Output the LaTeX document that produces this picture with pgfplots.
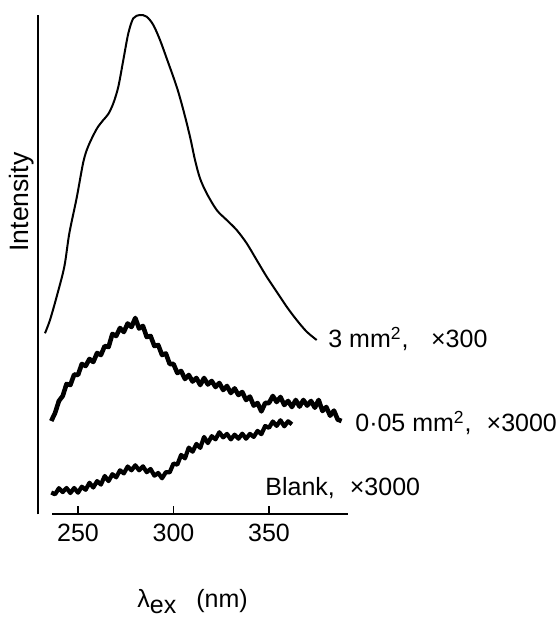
\documentclass[border=0pt]{standalone}
\usepackage{fontspec}
\setmainfont{Liberation Sans}
\usepackage{pgfplots}
\pgfplotsset{compat=1.18}
\begin{document}
\begin{tikzpicture}[font=\fontsize{12.5}{15}\selectfont]
\useasboundingbox (0,0) rectangle (279pt,309.5pt);
\begin{axis}[
  at={(19pt,52.5pt)}, anchor=south west,
  x=0.955pt, y=0.5pt,
  xmin=229.06, xmax=391.4, ymin=0, ymax=499,
  enlargelimits=false,
  axis line style={draw=none},
  xtick={250,300,350}, ytick=\empty,
  xtick pos=left,
  tick align=inside,
  major tick length=4pt,
  every tick/.style={black, line width=0.9pt},
  xticklabel style={yshift=-1.5pt},
  /pgf/number format/assume math mode=true,
  /pgf/number format/1000 sep={},
  clip=false,
]
% axis lines
\addplot[black, line width=0.9pt] coordinates {(236.4,0) (391.4,0)};
\addplot[black, line width=0.9pt] coordinates {(229.06,-0.5) (229.06,499)};

% 3 mm^2, x300
\addplot[black, line width=1pt, smooth] coordinates {
(232.72,180.7) (235.34,194) (238.83,217.3) (242.84,247.3) (245.46,280.7)
(249.30,316) (252.79,352) (255.41,368) (259.77,385) (263.26,394)
(265.88,400) (268.50,410.7) (271.12,427.3) (273.73,454) (276.35,480.7)
(278.97,495.7) (282.46,499) (285.95,497.3) (289.44,489) (292.93,474)
(296.42,455.7) (301.66,427.3) (305.15,404) (308.64,377.3) (311.26,354)
(313.87,335.7) (317.37,320.7) (322.60,304) (327.84,294) (333.07,284)
(338.31,270.7) (343.54,254) (348.78,237.3) (354.01,222.3) (359.25,207.3)
(364.48,194) (369.72,182.3) (374.96,174)
};

% 0.05 mm^2, x3000
\addplot[black, line width=2.3pt, line join=round] coordinates {
(236,93) (238,101) (240,113) (242,118) (244,130) (246,129) (248,139.5)
(250,139) (252,150) (254,148) (256,155) (258,152) (260,161) (262,159)
(264,168) (266,167) (268,180) (270,178) (272,186) (274,182) (276,190.5)
(278,187) (280,196) (282,185.5) (284,188) (286,177) (288,178) (290,168)
(292,169) (294,159) (296,160.5) (298,150) (300,150) (302,141) (304,143)
(306,135) (308,139) (310,132.5) (312,136) (314,129) (316,136) (318,129.5)
(320,133) (322,127) (324,131) (326,124) (328,128) (330,121) (332,125.6)
(334,119) (336,122) (338,114) (340,117.4) (342,108.4) (344,111) (346,102.6)
(348,111) (350,111) (352,118) (354,112) (356,117) (358,109) (360,113)
(362,107) (364,114) (366,107.4) (368,114) (370,108.4) (372,113) (374,106.3)
(376,114) (378,103) (380,107) (382,98.3) (384,103.4) (386,94.4) (388,93)
};

% Blank, x3000
\addplot[black, line width=2.1pt, line join=round] coordinates {
(236,21.5) (238,19.7) (240,25.8) (242,21.9) (244,26) (246,21) (248,26)
(250,21.3) (252,27.3) (254,24.2) (256,31.2) (258,26.5) (260,32.9) (262,29.4)
(264,38) (266,32.9) (268,39.8) (270,36.7) (272,43.7) (274,40.6) (276,47.5)
(278,43.7) (280,48.7) (282,43.7) (284,47.7) (286,41.8) (288,45) (290,38.3)
(292,41) (294,35.7) (296,41.8) (298,41.6) (300,50.5) (302,49.3) (304,59.1)
(306,55.6) (308,66.4) (310,62.3) (312,70.1) (314,66.1) (316,77) (318,70.9)
(320,77.8) (322,74.7) (324,81.7) (326,76.6) (328,80.1) (330,74.6) (332,79.3)
(334,75.3) (336,80.3) (338,75.3) (340,80.1) (342,77.1) (344,83.1) (346,79.8)
(348,88) (350,86.2) (352,92.5) (354,88.1) (356,93.7) (358,87.7) (360,92.7)
(362,89.7)
};

\node[rotate=90, font=\fontsize{13.3}{16}\selectfont] at (axis cs:220.7,312) {Intensity};
\node[anchor=base west, inner sep=0pt] at (axis cs:280.9,-93) {λ\raisebox{-3pt}{ex}\hspace{0.8em}(nm)};
\node[anchor=base west, inner sep=0pt] at (axis cs:380.9,166) {3 mm\textsuperscript{2},\hspace{0.9em}×300};
\node[anchor=base west, inner sep=0pt] at (axis cs:395.0,82) {0·05 mm\textsuperscript{2},\hspace{0.6em}×3000};
\node[anchor=base west, inner sep=0pt] at (axis cs:347.9,18) {Blank,\hspace{0.6em}×3000};
\end{axis}
\end{tikzpicture}
\end{document}
